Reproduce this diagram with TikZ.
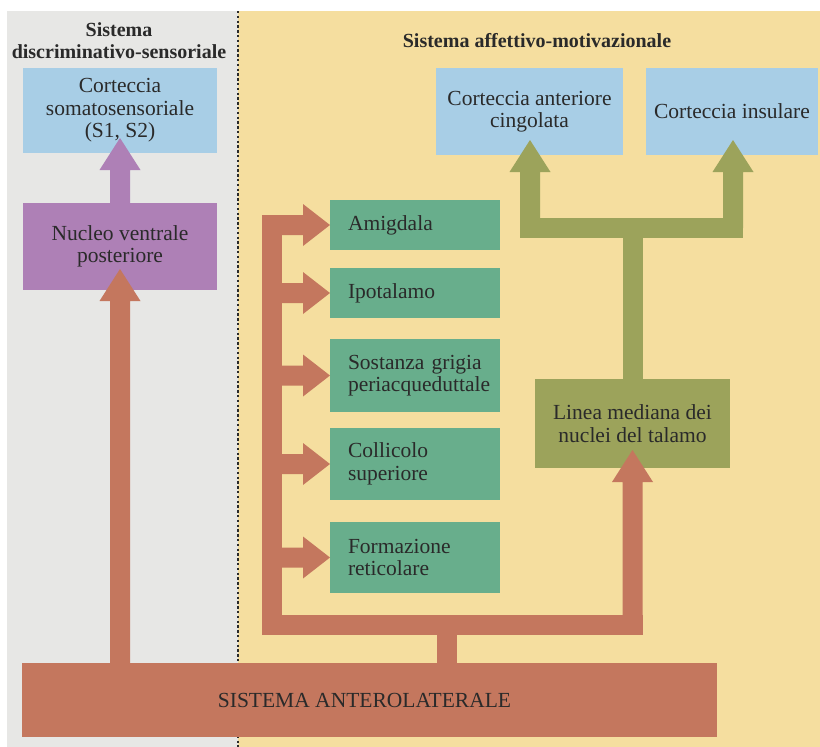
\documentclass[tikz,border=0pt]{standalone}
\usepackage{fontspec}
\setmainfont{Liberation Serif}
\usetikzlibrary{calc}
\definecolor{panelgray}{HTML}{E7E7E5}
\definecolor{panelyel}{HTML}{F5DE9F}
\definecolor{boxblue}{HTML}{A8CEE6}
\definecolor{boxpur}{HTML}{AE80B6}
\definecolor{boxgreen}{HTML}{68AE8C}
\definecolor{arrora}{HTML}{C4775E}
\definecolor{arroli}{HTML}{9CA35B}
\definecolor{txt}{HTML}{2A2A2A}
\newcommand{\fatup}[3]{\fill[#1] let \p1=(#2), \p2=(#3) in (\x1-10pt,\y1) -- (\x1-10pt,\y2-32pt) -- (\x1-20.5pt,\y2-32pt) -- (\x1,\y2) -- (\x1+20.5pt,\y2-32pt) -- (\x1+10pt,\y2-32pt) -- (\x1+10pt,\y1) -- cycle;}
\newcommand{\fatright}[3]{\fill[#1] let \p1=(#2), \p2=(#3) in (\x1,\y1+10pt) -- (\x2-27pt,\y1+10pt) -- (\x2-27pt,\y1+21pt) -- (\x2,\y1) -- (\x2-27pt,\y1-21pt) -- (\x2-27pt,\y1-10pt) -- (\x1,\y1-10pt) -- cycle;}
\begin{document}
\begin{tikzpicture}[x=1pt,y=-1pt,
  box/.style={inner sep=0pt, outer sep=0pt, text=txt, font=\fontsize{21.5}{22.5}\selectfont, align=center},
  ttl/.style={inner sep=0pt, text=txt, font=\fontsize{20}{22}\selectfont\bfseries, align=center},
  gbox/.style={box, fill=boxgreen, minimum width=170pt, text width=134pt, align=left},
  bar/.style={line width=20pt, line cap=rect, line join=miter}]
\useasboundingbox (0,0) rectangle (820,747);
\fill[white] (0,0) rectangle (820,747);
\fill[panelgray] (7,11) rectangle (238,747);
\fill[panelyel] (238,11) rectangle (820,747);
\draw[txt, line width=2.6pt, dash pattern=on 2.4pt off 2.4pt] (238,11) -- (238,747);

% titles
\node[ttl] (t1) at (119,41) {Sistema\\discriminativo-sensoriale};
\node[ttl] (t2) at (537,41) {Sistema affettivo-motivazionale};

% boxes
\node[box, fill=boxblue, minimum width=194pt, minimum height=85pt] (cs) at (120,110.5) {Corteccia\\somatosensoriale\\(S1, S2)};
\node[box, fill=boxpur, minimum width=194pt, minimum height=87pt] (nvp) at (120,246.5) {Nucleo ventrale\\posteriore};
\node[box, fill=arrora, minimum width=695pt, minimum height=74pt] (sa) at (369.5,700) {SISTEMA ANTEROLATERALE\hspace*{10pt}};
\node[gbox, minimum height=50pt] (amig) at (415,225) {Amigdala};
\node[gbox, minimum height=50pt] (ipot) at (415,293) {Ipotalamo};
\node[gbox, minimum height=73pt] (sost) at (415,375.5) {Sostanza grigia\\periacqueduttale};
\node[gbox, minimum height=72pt] (coll) at (415,464) {Collicolo\\superiore};
\node[gbox, minimum height=71pt] (form) at (415,557.5) {Formazione\\reticolare};
\node[box, fill=arroli, minimum width=195pt, minimum height=89pt] (lin) at (632.5,423.5) {Linea mediana dei\\nuclei del talamo};
\node[box, fill=boxblue, minimum width=187pt, minimum height=87pt] (cing) at (529.5,111.5) {Corteccia anteriore\\cingolata};
\node[box, fill=boxblue, minimum width=172pt, minimum height=87pt] (ins) at (732,111.5) {Corteccia insulare};

% helper coordinates
\coordinate (brk) at (262,0);
\coordinate (bot) at (272,625);
\coordinate (stem) at (447,625);
\coordinate (oj) at (632.5,625);
\coordinate (ol) at (530,228);
\coordinate (or) at (733,228);
\coordinate (om) at (632.5,228);

% purple arrow
\fatup{boxpur}{cs.south |- nvp.north}{$(cs.south)+(0,-15)$}
% orange arrow to NVP
\fatup{arrora}{nvp.south |- sa.north}{$(nvp.south)+(0,-21)$}
% orange bracket
\draw[arrora, bar] (272,225) -- (bot) -- (oj);
\draw[arrora, line width=20pt] (sa.north -| stem) -- (stem);
\fatright{arrora}{amig.west -| brk}{amig.west}
\fatright{arrora}{ipot.west -| brk}{ipot.west}
\fatright{arrora}{sost.west -| brk}{sost.west}
\fatright{arrora}{coll.west -| brk}{coll.west}
\fatright{arrora}{form.west -| brk}{form.west}
\fatup{arrora}{oj}{$(lin.south)+(0,-18)$}
% olive arrows
\draw[arroli, line width=20pt] (lin.north) -- (om);
\draw[arroli, bar] (ol) -- (or);
\fatup{arroli}{ol}{$(cing.south -| ol)+(0,-15)$}
\fatup{arroli}{or}{$(ins.south -| or)+(0,-15)$}
\end{tikzpicture}
\end{document}
